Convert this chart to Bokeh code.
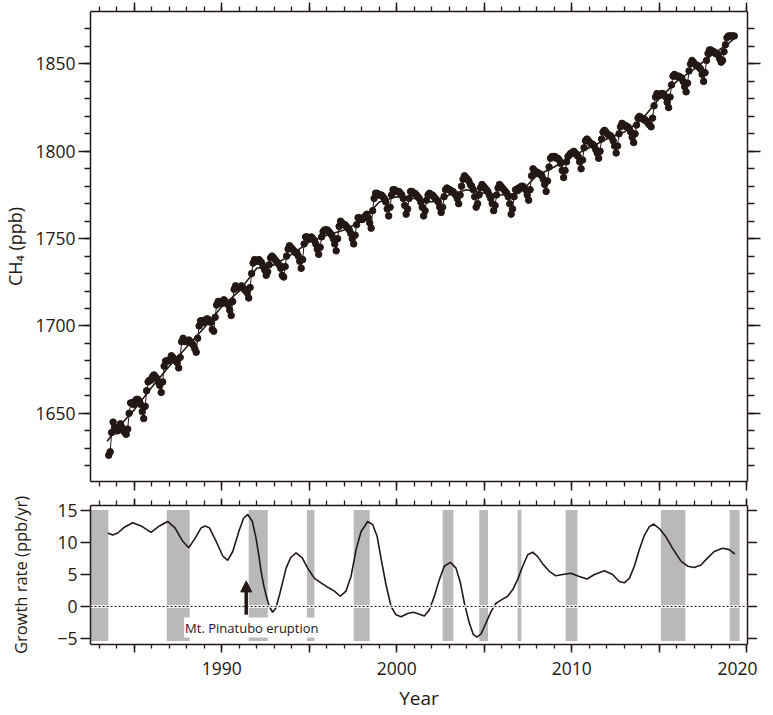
from bokeh.plotting import figure
from bokeh.layouts import column
from bokeh.models import (LinearAxis, FixedTicker, Range1d, Span, Label, Arrow,
                          NormalHead, CustomJSTickFormatter)
from bokeh.embed import file_html
from bokeh.resources import INLINE

# ---------------- data ----------------
# monthly CH4 (ppb), first value = July 1983, last = April 2019
ch4_start_year = 1983.5
ch4_ppb = [
    1626, 1628, 1639, 1645, 1642, 1640,                                   # 1983 Jul-Dec
    1640, 1641, 1644, 1642, 1640, 1639, 1638, 1641, 1650, 1656, 1656, 1655,  # 1984
    1657, 1658, 1658, 1657, 1655, 1651, 1647, 1654, 1663, 1668, 1669, 1669,  # 1985
    1671, 1672, 1671, 1670, 1668, 1666, 1662, 1668, 1677, 1680, 1680, 1680,  # 1986
    1681, 1683, 1682, 1681, 1680, 1679, 1676, 1682, 1691, 1693, 1692, 1691,  # 1987
    1691, 1692, 1691, 1690, 1689, 1687, 1685, 1693, 1700, 1703, 1703, 1702,  # 1988
    1702, 1704, 1704, 1703, 1702, 1698, 1697, 1705, 1712, 1714, 1714, 1713,  # 1989
    1713, 1715, 1714, 1713, 1712, 1709, 1706, 1714, 1721, 1723, 1722, 1722,  # 1990
    1722, 1723, 1722, 1721, 1720, 1719, 1716, 1722, 1730, 1736, 1738, 1737,  # 1991
    1737, 1738, 1737, 1736, 1734, 1732, 1729, 1731, 1735, 1739, 1740, 1739,  # 1992
    1738, 1737, 1736, 1735, 1733, 1729, 1728, 1734, 1740, 1744, 1746, 1745,  # 1993
    1744, 1743, 1742, 1742, 1740, 1737, 1733, 1738, 1747, 1751, 1751, 1750,  # 1994
    1750, 1751, 1750, 1749, 1747, 1744, 1741, 1745, 1751, 1754, 1755, 1755,  # 1995
    1755, 1754, 1753, 1752, 1750, 1747, 1743, 1750, 1757, 1760, 1759, 1758,  # 1996
    1758, 1757, 1756, 1755, 1753, 1750, 1747, 1752, 1758, 1762, 1762, 1761,  # 1997
    1761, 1762, 1763, 1764, 1762, 1759, 1756, 1766, 1773, 1776, 1776, 1775,  # 1998
    1775, 1775, 1774, 1773, 1771, 1767, 1763, 1768, 1775, 1778, 1778, 1777,  # 1999
    1777, 1777, 1776, 1775, 1773, 1769, 1764, 1767, 1773, 1777, 1777, 1776,  # 2000
    1776, 1775, 1774, 1773, 1771, 1768, 1763, 1766, 1772, 1775, 1776, 1775,  # 2001
    1775, 1774, 1773, 1772, 1771, 1768, 1765, 1768, 1774, 1778, 1779, 1778,  # 2002
    1778, 1777, 1777, 1776, 1775, 1773, 1770, 1775, 1780, 1784, 1786, 1785,  # 2003
    1784, 1783, 1781, 1780, 1778, 1774, 1768, 1770, 1775, 1779, 1781, 1780,  # 2004
    1779, 1778, 1777, 1775, 1773, 1770, 1766, 1769, 1775, 1779, 1781, 1780,  # 2005
    1779, 1778, 1777, 1776, 1774, 1770, 1764, 1767, 1774, 1778, 1778, 1779,  # 2006
    1779, 1780, 1780, 1779, 1778, 1775, 1772, 1778, 1786, 1790, 1789, 1788,  # 2007
    1788, 1787, 1787, 1786, 1784, 1781, 1777, 1783, 1791, 1796, 1797, 1797,  # 2008
    1797, 1796, 1796, 1795, 1793, 1789, 1785, 1789, 1794, 1797, 1798, 1799,  # 2009
    1799, 1800, 1799, 1798, 1797, 1794, 1790, 1795, 1802, 1806, 1807, 1806,  # 2010
    1805, 1804, 1804, 1803, 1801, 1799, 1796, 1800, 1807, 1811, 1812, 1811,  # 2011
    1810, 1809, 1809, 1808, 1806, 1803, 1799, 1803, 1810, 1814, 1816, 1815,  # 2012
    1815, 1814, 1814, 1813, 1811, 1808, 1805, 1810, 1815, 1819, 1820, 1819,  # 2013
    1819, 1818, 1818, 1817, 1816, 1815, 1814, 1819, 1826, 1831, 1833, 1832,  # 2014
    1832, 1833, 1833, 1832, 1831, 1828, 1825, 1831, 1838, 1843, 1844, 1843,  # 2015
    1843, 1843, 1842, 1842, 1840, 1837, 1834, 1839, 1846, 1850, 1852, 1851,  # 2016
    1850, 1849, 1849, 1848, 1847, 1844, 1840, 1845, 1852, 1856, 1858, 1858,  # 2017
    1857, 1857, 1856, 1856, 1855, 1853, 1851, 1852, 1857, 1861, 1865, 1866,  # 2018
    1866, 1866, 1866, 1866,                                               # 2019 Jan-Apr
]

# long-term trend (ppb)
trend_years = [1983.45] + list(range(1984, 2020)) + [2019.35]
trend_ppb = [1634, 1641, 1652, 1665, 1677, 1688, 1699, 1711, 1720, 1733,
             1735, 1741, 1748, 1752, 1755, 1760, 1771, 1774, 1773, 1771,
             1775, 1778, 1776, 1775, 1776, 1786, 1791, 1797, 1802, 1807,
             1811, 1818, 1830, 1840, 1847, 1855, 1862, 1865]

# growth rate (ppb/yr)
gr_years = [1983.49, 1983.77, 1984.06, 1984.44, 1984.91, 1985.39, 1985.96, 1986.44, 1986.91, 1987.33,
            1987.77, 1988.11, 1988.44, 1988.82, 1989.05, 1989.30, 1989.68, 1990.06, 1990.34, 1990.63,
            1991.01, 1991.25, 1991.49, 1991.75, 1991.96, 1992.12, 1992.25, 1992.40, 1992.53, 1992.72,
            1992.91, 1993.10, 1993.30, 1993.50, 1993.68, 1993.95, 1994.25, 1994.60, 1994.91, 1995.30,
            1995.68, 1996.06, 1996.44, 1996.78, 1997.10, 1997.39, 1997.68, 1997.96, 1998.34, 1998.63,
            1998.88, 1999.10, 1999.39, 1999.68, 1999.96, 2000.25, 2000.63, 2000.97, 2001.30, 2001.58,
            2001.87, 2002.15, 2002.44, 2002.72, 2003.07, 2003.39, 2003.64, 2003.87, 2004.15, 2004.38,
            2004.59, 2004.82, 2005.10, 2005.39, 2005.68, 2005.96, 2006.34, 2006.63, 2006.91, 2007.20,
            2007.49, 2007.77, 2008.06, 2008.34, 2008.72, 2009.10, 2009.49, 2009.96, 2010.44, 2010.88,
            2011.30, 2011.87, 2012.34, 2012.72, 2013.01, 2013.30, 2013.58, 2013.87, 2014.15, 2014.44,
            2014.69, 2015.01, 2015.39, 2015.77, 2016.25, 2016.63, 2017.01, 2017.39, 2017.77, 2018.15,
            2018.63, 2019.01, 2019.33]
gr_rate = [11.5, 11.2, 11.5, 12.4, 13.1, 12.6, 11.6, 12.6, 13.3, 12.3,
           10.2, 9.2, 10.5, 12.3, 12.6, 12.3, 10.2, 7.9, 7.2, 8.6,
           12.0, 13.8, 14.4, 13.3, 10.7, 8.0, 5.5, 3.3, 1.8, 0.0,
           -0.9, -0.2, 1.8, 4.0, 6.0, 7.7, 8.4, 7.6, 6.0, 4.4,
           3.7, 3.0, 2.4, 1.6, 2.4, 4.7, 8.9, 11.7, 13.3, 12.8,
           11.0, 7.6, 3.4, 0.0, -1.3, -1.6, -1.1, -0.9, -1.2, -1.5,
           -0.5, 1.6, 4.2, 6.3, 6.9, 6.0, 3.7, 0.5, -2.6, -4.4,
           -4.8, -4.3, -2.6, -0.8, 0.5, 1.0, 1.6, 2.6, 4.2, 6.3,
           8.1, 8.5, 7.8, 6.7, 5.5, 4.8, 5.0, 5.2, 4.7, 4.3,
           5.0, 5.6, 5.0, 3.9, 3.7, 4.4, 6.3, 8.9, 11.1, 12.5,
           12.9, 12.2, 10.9, 9.1, 7.1, 6.3, 6.1, 6.5, 7.6, 8.6,
           9.1, 8.9, 8.2]

# shaded periods
band_start = [1982.5, 1986.86, 1991.54, 1994.87, 1997.54, 2002.63, 2004.72, 2006.91, 2009.66, 2015.10, 2019.03]
band_end = [1983.52, 1988.17, 1992.63, 1995.30, 1998.46, 2003.24, 2005.22, 2007.13, 2010.33, 2016.50, 2019.60]

year_ticks = [1985, 1990, 1995, 2000, 2005, 2010, 2015, 2020]
year_minor = list(range(1983, 2021))
year_labels_hidden = {1985: "", 1995: "", 2005: "", 2015: ""}
ch4_ticks = [1650, 1700, 1750, 1800, 1850]
ch4_minor = list(range(1620, 1880, 10))
gr_ticks = [-5, 0, 5, 10, 15]

event_text = "Mt. Pinatubo eruption"
event_year = 1991.4

# ---------------- style ----------------
DARK = "#231815"
FONT = "Open Sans"
BAND = "#b9b9b9"

ch4_x = [ch4_start_year + (i + 0.5) / 12.0 for i in range(len(ch4_ppb))]

x_range = Range1d(1982.5, 2020.05)


def style_axis(ax, major_out, minor_out, labels=True, label_size="17.5px"):
    ax.axis_line_color = DARK
    ax.axis_line_width = 1.5
    ax.major_tick_line_color = DARK
    ax.major_tick_line_width = 1.5
    ax.minor_tick_line_color = DARK
    ax.minor_tick_line_width = 1.3
    ax.major_tick_in = 0
    ax.minor_tick_in = 0
    ax.major_tick_out = major_out
    ax.minor_tick_out = minor_out
    ax.major_label_text_font = FONT
    ax.major_label_text_color = DARK
    ax.major_label_text_font_size = label_size
    ax.axis_label_text_font = FONT
    ax.axis_label_text_color = DARK
    ax.axis_label_text_font_size = "18px"
    ax.axis_label_text_font_style = "normal"
    if not labels:
        ax.formatter = CustomJSTickFormatter(code="return ''")
        ax.major_label_text_font_size = "0px"
        ax.major_label_standoff = 0


# ---------------- top panel ----------------
p1 = figure(frame_width=657, frame_height=470, x_range=x_range, y_range=Range1d(1611, 1880),
            output_backend="svg", toolbar_location=None,
            x_axis_location=None, y_axis_location=None,
            min_border_left=85, min_border_right=15, min_border_top=11, min_border_bottom=10)
p1.outline_line_color = None
p1.grid.visible = False
p1.background_fill_color = "white"
p1.border_fill_color = "white"

ax = LinearAxis(ticker=FixedTicker(ticks=ch4_ticks, minor_ticks=ch4_minor), axis_label="CH₄ (ppb)")
style_axis(ax, 12, 6)
ax.major_label_standoff = 3
ax.axis_label_standoff = 5
p1.add_layout(ax, "left")

ax = LinearAxis(ticker=FixedTicker(ticks=ch4_ticks, minor_ticks=ch4_minor))
style_axis(ax, 13, 7, labels=False)
p1.add_layout(ax, "right")

ax = LinearAxis(ticker=FixedTicker(ticks=year_ticks, minor_ticks=year_minor))
style_axis(ax, 9, 5, labels=False)
p1.add_layout(ax, "above")

ax = LinearAxis(ticker=FixedTicker(ticks=year_ticks, minor_ticks=year_minor))
style_axis(ax, 9, 5, labels=False)
p1.add_layout(ax, "below")

p1.line(ch4_x, ch4_ppb, line_color=DARK, line_width=1)
p1.scatter(ch4_x, ch4_ppb, marker="circle", size=6.5, fill_color=DARK, line_color=DARK)
p1.line(trend_years, trend_ppb, line_color=DARK, line_width=1.6)

# ---------------- bottom panel ----------------
p2 = figure(frame_width=657, frame_height=139, x_range=x_range, y_range=Range1d(-5.95, 15.8),
            output_backend="svg", toolbar_location=None,
            x_axis_location=None, y_axis_location=None,
            min_border_left=85, min_border_right=15, min_border_top=14, min_border_bottom=63)
p2.outline_line_color = None
p2.grid.visible = False
p2.background_fill_color = "white"
p2.border_fill_color = "white"

ax = LinearAxis(ticker=FixedTicker(ticks=gr_ticks, minor_ticks=[]), axis_label="Growth rate (ppb/yr)")
style_axis(ax, 10, 0)
ax.major_label_standoff = 3
ax.axis_label_standoff = 22
ax.axis_label_text_font_size = "16.5px"
p2.add_layout(ax, "left")

ax = LinearAxis(ticker=FixedTicker(ticks=gr_ticks, minor_ticks=[]))
style_axis(ax, 10, 0, labels=False)
p2.add_layout(ax, "right")

ax = LinearAxis(ticker=FixedTicker(ticks=year_ticks, minor_ticks=year_minor))
style_axis(ax, 7, 5, labels=False)
p2.add_layout(ax, "above")

ax = LinearAxis(ticker=FixedTicker(ticks=year_ticks, minor_ticks=year_minor), axis_label="Year")
style_axis(ax, 8, 4)
ax.major_label_overrides = year_labels_hidden
ax.major_label_standoff = 9
ax.axis_label_standoff = 7
ax.axis_label_text_font_size = "19px"
p2.add_layout(ax, "below")

p2.quad(left=band_start, right=band_end, bottom=-5.4, top=15.1,
        fill_color=BAND, line_color=None)

p2.add_layout(Span(location=0, dimension="width", line_color="white", line_width=2.5))
p2.add_layout(Span(location=0, dimension="width", line_color=DARK, line_width=1, line_dash="2 2"))

p2.line(gr_years, gr_rate, line_color=DARK, line_width=1.6)

p2.add_layout(Label(x=1987.85, y=-3.3, text=event_text, text_font=FONT, text_font_size="13px",
                    text_color=DARK, text_baseline="middle", text_align="left",
                    background_fill_color="white", padding=1))

p2.add_layout(Arrow(end=NormalHead(size=11, fill_color=DARK, line_color=DARK, line_width=1),
                    x_start=event_year, y_start=-1.3, x_end=event_year, y_end=4.0,
                    line_color=DARK, line_width=3.5))

layout = column(p1, p2)
open("out.html", "w").write(file_html(layout, INLINE))
